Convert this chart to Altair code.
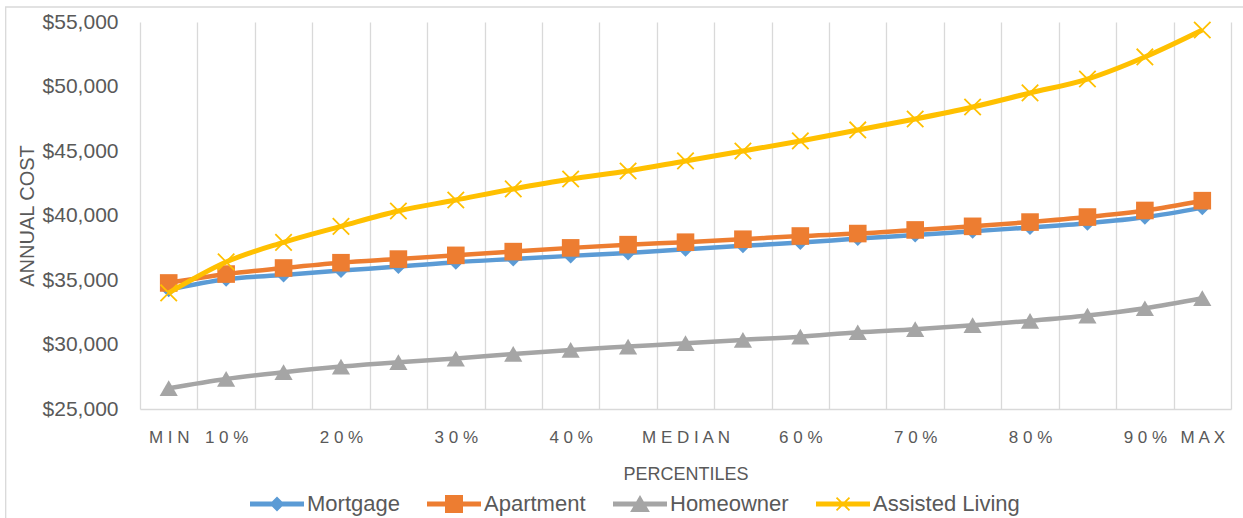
import altair as alt
import pandas as pd

categories = ["MIN", "10%", "15%", "20%", "25%", "30%", "35%", "40%", "45%", "MEDIAN",
              "55%", "60%", "65%", "70%", "75%", "80%", "85%", "90%", "MAX"]
tick_labels = ["MIN", "10%", "", "20%", "", "30%", "", "40%", "", "MEDIAN",
               "", "60%", "", "70%", "", "80%", "", "90%", "MAX"]
series_names = ["Mortgage", "Apartment", "Homeowner", "Assisted Living"]

mortgage = [34250, 35060, 35390, 35730, 36040, 36380, 36630, 36870, 37100, 37380,
            37650, 37900, 38210, 38490, 38780, 39070, 39400, 39860, 40610]
apartment = [34770, 35460, 35930, 36340, 36620, 36910, 37200, 37490, 37740, 37930,
             38160, 38410, 38600, 38880, 39160, 39490, 39880, 40390, 41150]
homeowner = [26610, 27330, 27850, 28290, 28630, 28910, 29270, 29580, 29840, 30100,
             30355, 30610, 30950, 31185, 31495, 31830, 32240, 32810, 33590]
assisted = [34000, 36400, 37920, 39160, 40350, 41200, 42060, 42830, 43450, 44230,
            45000, 45780, 46630, 47480, 48410, 49500, 50580, 52290, 54380]

values_by_series = [mortgage, apartment, homeowner, assisted]
colors = ["#5B9BD5", "#ED7D31", "#A5A5A5", "#FFC000"]

rows = []
for name, vals in zip(series_names, values_by_series):
    for i, (cat, v) in enumerate(zip(categories, vals)):
        rows.append({"idx": i, "category": cat, "series": name, "cost": v})
df = pd.DataFrame(rows)

FONT = "Liberation Sans"
TXT = "#595959"
GRID = "#D9D9D9"

spaced = [" ".join(list(t)) for t in tick_labels]
label_array = "[" + ",".join("'" + s + "'" for s in spaced) + "]"
label_expr = "datum.value % 1 === 0 ? " + label_array + "[datum.value] : ''"
x_vals = [i / 2 - 0.5 for i in range(2 * len(categories) + 1)]

x_enc = alt.X(
    "idx:Q",
    scale=alt.Scale(domain=[-0.5, len(categories) - 0.5], nice=False, zero=False),
    axis=alt.Axis(
        values=x_vals,
        labelExpr=label_expr,
        labelOverlap=False,
        labelFlush=False,
        ticks=False,
        tickSize=0,
        grid=True,
        gridColor=GRID,
        gridWidth=1.3,
        gridOpacity={"condition": {"test": "datum.value % 1 !== 0", "value": 1}, "value": 0},
        domainColor=GRID,
        domainWidth=1.5,
        labelFont=FONT,
        labelFontSize=17,
        labelColor=TXT,
        labelPadding=20,
        title="PERCENTILES",
        titleFont=FONT,
        titleFontSize=18,
        titleFontWeight="normal",
        titleColor=TXT,
        titleY=70.4,
        titleBaseline="alphabetic",
    ),
)
y_enc = alt.Y(
    "cost:Q",
    scale=alt.Scale(domain=[25000, 55000], nice=False, zero=False),
    axis=alt.Axis(
        values=list(range(25000, 55001, 5000)),
        format="$,.0f",
        grid=False,
        domain=False,
        ticks=False,
        tickSize=0,
        labelFont=FONT,
        labelFontSize=21,
        labelColor=TXT,
        labelPadding=22,
        labelFlush=False,
        title="ANNUAL COST",
        titleFont=FONT,
        titleFontSize=20,
        titleFontWeight="normal",
        titleColor=TXT,
        titleAngle=270,
        titleX=-106.7,
        titleY=193.5,
        titleAlign="center",
        titleBaseline="alphabetic",
    ),
)

base = alt.Chart(df)

marker_specs = [
    dict(shape="diamond", filled=True, size=225),
    dict(shape="square", filled=True, size=310),
    dict(shape="triangle-up", filled=True, size=330),
    dict(shape="M-1,-1L1,1M-1,1L1,-1", filled=False, size=270, strokeWidth=1.8),
]
line_widths = [4.5, 4.5, 4.5, 5]

layers = []
# chart area frame
frame = alt.Chart(alt.Data(values=[{"k": 0}])).mark_rect(
    fill="transparent", stroke=GRID, strokeWidth=1.3
).encode(x=alt.value(-134.3), x2=alt.value(1300), y=alt.value(-15), y2=alt.value(700))
layers.append(frame)

for name, col, spec, lw in zip(series_names, colors, marker_specs, line_widths):
    sub = base.transform_filter(alt.datum.series == name)
    layers.append(sub.mark_line(color=col, strokeWidth=lw, interpolate="monotone").encode(x=x_enc, y=y_enc))
    layers.append(sub.mark_point(color=col, opacity=1, **spec).encode(x=x_enc, y=y_enc))


def xbars(a, w):
    o = w / 2 ** 0.5
    p1 = f"M{-a+o:.3f},{-a-o:.3f}L{a+o:.3f},{a-o:.3f}L{a-o:.3f},{a+o:.3f}L{-a-o:.3f},{-a+o:.3f}Z"
    p2 = f"M{-a-o:.3f},{a-o:.3f}L{a-o:.3f},{-a-o:.3f}L{a+o:.3f},{-a+o:.3f}L{-a+o:.3f},{a+o:.3f}Z"
    return p1 + p2


leg_line = "M-3,-0.28H3V0.28H-3Z"
legend_paths = [
    leg_line + "M0,-0.83L0.83,0L0,0.83L-0.83,0Z",
    leg_line + "M-1,-1H1V1H-1Z",
    leg_line + "M0,-1L1.1,0.9H-1.1Z",
    leg_line + xbars(0.72, 0.1),
]

legend_props = dict(
    title=None,
    orient="none",
    legendX=126,
    legendY=471,
    direction="horizontal",
    symbolSize=324,
    symbolStrokeWidth=0,
    labelOffset=19,
    columnPadding=27,
    labelFont=FONT,
    labelFontSize=22,
    labelColor=TXT,
    padding=0,
)

legend_layer = base.transform_filter("false").mark_point(filled=True, opacity=1, strokeWidth=0).encode(
    x=x_enc,
    y=y_enc,
    color=alt.Color("series:N", scale=alt.Scale(domain=series_names, range=colors),
                    legend=alt.Legend(**legend_props)),
    shape=alt.Shape("series:N", scale=alt.Scale(domain=series_names, range=legend_paths),
                    legend=alt.Legend(**legend_props)),
)
layers.append(legend_layer)

chart = alt.layer(*layers).properties(
    width=1091,
    height=387,
    autosize=alt.AutoSizeParams(type="none"),
    padding={"left": 140, "top": 22, "right": 12, "bottom": 109},
    background="white",
).configure_view(strokeWidth=0)

chart.save("out.html", embed_options={"renderer": "svg", "actions": False})
